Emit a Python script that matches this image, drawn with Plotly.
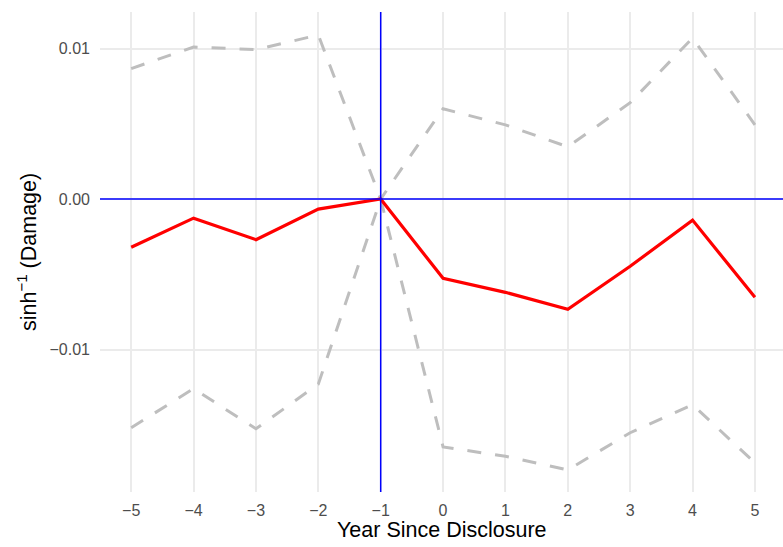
import plotly.graph_objects as go

years = [-5, -4, -3, -2, -1, 0, 1, 2, 3, 4, 5]
estimate = [-0.0032, -0.00127, -0.0027, -0.00067, 0.0, -0.00527, -0.0062, -0.00733, -0.00447, -0.0014, -0.00653]
upper = [0.00867, 0.0101, 0.00993, 0.0109, 0.0, 0.006, 0.00493, 0.00347, 0.0064, 0.0107, 0.00493]
lower = [-0.0152, -0.0126, -0.01527, -0.0123, 0.0, -0.01647, -0.0171, -0.018, -0.01553, -0.01367, -0.01753]

x_ticks = [-5, -4, -3, -2, -1, 0, 1, 2, 3, 4, 5]
x_ticktext = ["\u22125", "\u22124", "\u22123", "\u22122", "\u22121", "0", "1", "2", "3", "4", "5"]
y_ticks = [-0.01, 0.0, 0.01]
y_ticktext = ["\u22120.01", "0.00", "0.01"]

FONT = "Liberation Sans, Arial, Helvetica, sans-serif"

fig = go.Figure()
dash = "14px,14px"
fig.add_trace(go.Scatter(x=years, y=upper, mode="lines",
                         line=dict(color="#BEBEBE", width=3, dash=dash), showlegend=False))
fig.add_trace(go.Scatter(x=years, y=lower, mode="lines",
                         line=dict(color="#BEBEBE", width=3, dash=dash), showlegend=False))
fig.add_trace(go.Scatter(x=years, y=estimate, mode="lines",
                         line=dict(color="#FF0000", width=3.2), showlegend=False))

fig.add_shape(type="line", xref="paper", yref="y", x0=0, x1=1, y0=0, y1=0,
              line=dict(color="#0000FF", width=1.5), layer="above")
fig.add_shape(type="line", xref="x", yref="paper", x0=-1, x1=-1, y0=0, y1=1,
              line=dict(color="#0000FF", width=1.5), layer="above")

fig.update_layout(
    width=783, height=547,
    margin=dict(l=100, r=0, t=12, b=55),
    paper_bgcolor="white", plot_bgcolor="white",
    font=dict(family=FONT),
    xaxis=dict(range=[-5.5, 5.45], tickvals=x_ticks, ticktext=x_ticktext,
               showgrid=True, gridcolor="#EBEBEB", gridwidth=1.5, zeroline=False,
               showline=False, ticks="", ticklabelstandoff=7,
               tickfont=dict(size=16, color="#4D4D4D")),
    yaxis=dict(range=[-0.01947, 0.01243], tickvals=y_ticks, ticktext=y_ticktext,
               showgrid=True, gridcolor="#EBEBEB", gridwidth=1.5, zeroline=False,
               showline=False, ticks="", ticklabelstandoff=9,
               tickfont=dict(size=16, color="#4D4D4D")),
    annotations=[
        dict(text="Year Since Disclosure", xref="paper", yref="paper", x=0.5, y=0,
             xanchor="center", yanchor="middle", yshift=-38, showarrow=False,
             font=dict(size=21.5, color="black", family=FONT)),
        dict(text="sinh<sup>\u22121</sup> (Damage)", xref="paper", yref="paper", x=0, y=0.5,
             xanchor="center", yanchor="middle", xshift=-73, textangle=-90, showarrow=False,
             font=dict(size=21.5, color="black", family=FONT)),
    ],
)

fig.write_html("out.html")
